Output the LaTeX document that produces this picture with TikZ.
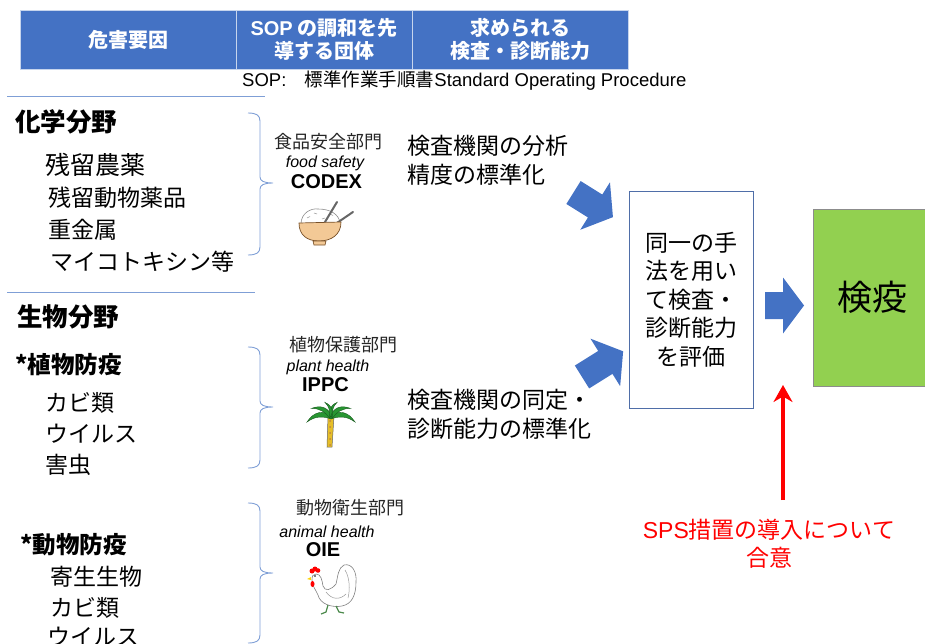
\documentclass[tikz,border=0pt]{standalone}
\usepackage{fontspec}
\setmainfont{Noto Sans CJK JP}
\newfontfamily\lat{Liberation Sans}
\usetikzlibrary{arrows.meta}

\definecolor{hdrblue}{HTML}{4472C4}
\definecolor{arrblue}{HTML}{4472C4}
\definecolor{brcblue}{HTML}{7F9FD6}
\definecolor{boxedge}{HTML}{4F6EA8}
\definecolor{qgreen}{HTML}{92D050}
\definecolor{spsred}{HTML}{FF0000}
\definecolor{bowl}{RGB}{243,201,150}
\definecolor{bowledge}{RGB}{120,80,40}
\definecolor{leaf}{RGB}{40,150,50}
\definecolor{trunk}{RGB}{230,190,40}

% right brace: top, tip, bottom
\newcommand\catbrace[3]{%
  \draw[brc] (248,#1) .. controls (256,#1) and (260,#1+2) .. (260,#1+8) -- (260,#2-6)
    .. controls (260,#2-2) and (264,#2) .. (273,#2) .. controls (264,#2) and (260,#2+2) .. (260,#2+6)
    -- (260,#3-8) .. controls (260,#3-2) and (256,#3) .. (248,#3);}

\begin{document}
\begin{tikzpicture}[x=1pt,y=-1pt,
  hdr/.style={draw=white!70!hdrblue,line width=0.8pt,fill=hdrblue,text=white,align=center,
    minimum height=59,inner sep=0pt,font=\fontsize{20}{23}\selectfont\bfseries},
  cat/.style={anchor=west,inner sep=0pt,font=\fontsize{25.5}{30}\selectfont\bfseries},
  sub/.style={anchor=west,inner sep=0pt,font=\fontsize{23.5}{28}\selectfont\bfseries},
  item/.style={anchor=west,inner sep=0pt,font=\fontsize{23}{28}\selectfont},
  dept/.style={inner sep=0pt,text=black!85,font=\fontsize{18}{22}\selectfont},
  eng/.style={inner sep=0pt,font=\lat\fontsize{16}{19}\selectfont\itshape},
  org/.style={inner sep=0pt,font=\lat\fontsize{20}{24}\selectfont\bfseries},
  aim/.style={anchor=west,inner sep=0pt,align=left,font=\fontsize{23}{29}\selectfont},
  sep/.style={draw=brcblue,line width=1pt},
  brc/.style={draw=brcblue,line width=0.9pt},
  redarr/.style={draw=spsred,line width=3.5pt,-{Stealth[length=17pt,width=19pt]}},
  pics/blkarr/.style={code={\fill[arrblue] (0,-13.5) -- (#1-21,-13.5) -- (#1-21,-28) -- (#1,0)
    -- (#1-21,28) -- (#1-21,13.5) -- (0,13.5) -- cycle;}}]
\useasboundingbox (0,0) rectangle (925,644);

% header row
\node[hdr,minimum width=216] (haz) at (128,39.5) {危害要因};
\node[hdr,minimum width=176] (sop) at (324,39.5) {{\lat SOP} の調和を先\\導する団体};
\node[hdr,minimum width=216] (need) at (520,39.5) {求められる\\検査・診断能力};
\node[anchor=west,inner sep=0pt,font=\fontsize{18.5}{22}\selectfont] (sopdef) at (242,81)
  {{\lat SOP:}\quad 標準作業手順書{\lat Standard Operating Procedure}};

\draw[sep] (7,97) -- (265,97);
\draw[sep] (7,292) -- (255,292);

% chemical hazards
\node[cat] (chem) at (15,122) {化学分野};
\node[item,font=\fontsize{25}{30}\selectfont] (c1) at (45,165) {残留農薬};
\node[item] (c2) at (48,198) {残留動物薬品};
\node[item] (c3) at (48,230) {重金属};
\node[item] (c4) at (50,262) {マイコトキシン等};
\catbrace{113}{183}{255}

% biological hazards
\node[cat] (bio) at (17,317) {生物分野};
\node[sub] (plant) at (15,365) {*植物防疫};
\node[item] (p1) at (45,403) {カビ類};
\node[item] (p2) at (45,434) {ウイルス};
\node[item] (p3) at (45,465) {害虫};
\catbrace{347}{407}{468}

\node[sub] (animal) at (20,545) {*動物防疫};
\node[item] (a1) at (50,577) {寄生生物};
\node[item] (a2) at (50,608) {カビ類};
\node[item] (a3) at (47,637) {ウイルス};
\catbrace{503}{573}{643}

% standard setting bodies
\node[dept] (fsd) at (328,142) {食品安全部門};
\node[eng] (fse) at (325,163) {food safety};
\node[org] (codex) at (326.5,182) {CODEX};
\node[dept] (pld) at (343,345) {植物保護部門};
\node[eng] (ple) at (328,367) {plant health};
\node[org] (ippc) at (325.5,385) {IPPC};
\node[dept] (and) at (350,508) {動物衛生部門};
\node[eng] (ane) at (327,532) {animal health};
\node[org] (oie) at (323,550) {OIE};

% rice bowl
\filldraw[fill=white,draw=black!45,line width=0.6pt] (301,224) .. controls (301,213) and (311,208) .. (318,209)
  .. controls (330,209) and (339,214) .. (340,223) -- cycle;
\draw[black!40,line width=0.5pt] (307,218) -- (310,216.5) (314,213) -- (317,214) (322,219) -- (325,218) (330,214) -- (333,215.5);
\draw[black!60,line width=2pt,line cap=round] (337,202) -- (322,227) (353,212) -- (331,227);
\filldraw[fill=bowl,draw=bowledge,line width=0.7pt] (299,223) -- (341,222) .. controls (341,235) and (331,241) .. (319,241)
  .. controls (307,241) and (299,235) .. (299,223) -- cycle;
\filldraw[fill=bowl,draw=bowledge,line width=0.7pt] (313,241) -- (326,241) -- (325,245) -- (314,245) -- cycle;

% palm tree
\filldraw[fill=trunk,draw=black!60,line width=0.5pt] (328,416) -- (334,416) -- (332,447) -- (327,447) -- cycle;
\foreach \y in {421,427,...,445} \fill[brown] (330,\y) circle (1);
\begin{scope}[shift={(331,416)}]
  \foreach \r/\s in {0/1,35/0.85,80/0.6} {
    \filldraw[fill=leaf,draw=leaf!60!black,line width=0.4pt,rotate=\r,scale=\s]
      (0,0) .. controls (7,-6) and (17,-5) .. (24,6) .. controls (16,0) and (8,0) .. (0,3) -- cycle;
    \filldraw[fill=leaf,draw=leaf!60!black,line width=0.4pt,xscale=-1,rotate=\r,scale=\s]
      (0,0) .. controls (7,-6) and (17,-5) .. (24,6) .. controls (16,0) and (8,0) .. (0,3) -- cycle;
  }
\end{scope}

% rooster
\filldraw[fill=white,draw=black!50,line width=0.6pt] (316,574) .. controls (321,574) and (322,580) .. (323,586)
  .. controls (325,592) and (331,590) .. (336,584) .. controls (338,576) and (338,568) .. (344,565)
  .. controls (352,563) and (357,572) .. (356,582) .. controls (356,595) and (352,604) .. (342,606)
  .. controls (332,608) and (320,604) .. (318,595) .. controls (316,590) and (312,586) .. (312,580)
  .. controls (312,576) and (313,574) .. (316,574) -- cycle;
\fill[red] (312,571) circle (2.5) (315,569) circle (2.5) (318,570.5) circle (2.3) (312.5,584) ellipse (2 and 3);
\fill[yellow!70!orange] (311,577) -- (307,579) -- (311,580) -- cycle;
\fill (315,576) circle (0.8);
\draw[black!40,line width=0.5pt] (326,592) .. controls (332,600) and (340,600) .. (346,594)
  (345,570) .. controls (350,578) and (350,590) .. (348,598);
\draw[black!40!green!40!gray,line width=1.2pt] (328,605) -- (326,612) -- (321,614) (336,606) -- (339,612) -- (344,613);

% aims and arrows
\node[aim] (acc) at (407,160.5) {検査機関の分析\\精度の標準化};
\node[aim] (ident) at (407,414.5) {検査機関の同定・\\診断能力の標準化};
\pic[rotate=-32] at (573.5,192.5) {blkarr=46.5};
\pic[rotate=32] at (582,377) {blkarr=48.5};

\node[draw=boxedge,line width=0.8pt,minimum width=124,minimum height=217,inner sep=0pt,align=center,
  font=\fontsize{23}{28.5}\selectfont] (eval) at (691,299.5) {同一の手\\法を用い\\て検査・\\診断能力\\を評価};
\pic at (765,305.5) {blkarr=39};
\node[fill=qgreen,draw=black!45,line width=0.8pt,minimum width=118,minimum height=177,inner sep=0pt,
  font=\fontsize{35}{40}\selectfont] (quar) at (872,297.5) {検疫};

\node[text=spsred,align=center,inner sep=0pt,font=\fontsize{23}{28}\selectfont] (sps) at (769,544)
  {{\lat SPS}措置の導入について\\合意};
\coordinate (spsfoot) at (783,500);
\coordinate (agree) at (783,385);
\draw[redarr] (spsfoot) -- (agree);
\end{tikzpicture}
\end{document}
